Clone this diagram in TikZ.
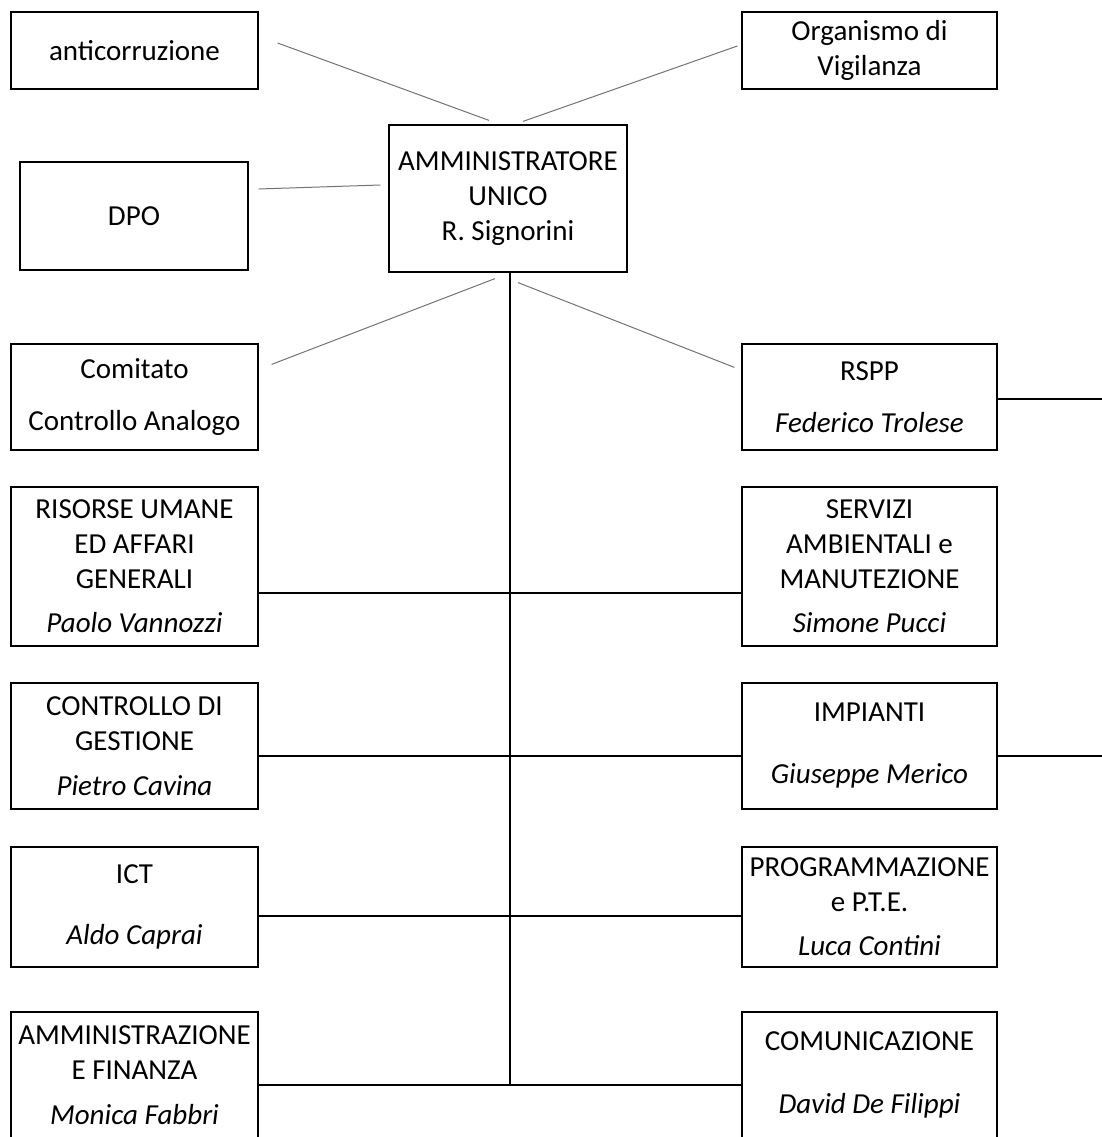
\documentclass[tikz,border=0pt]{standalone}
\usepackage{fontspec}
\setmainfont{Carlito}
\usetikzlibrary{calc,positioning}
\newcommand{\leftw}{247pt}
\newcommand{\rightw}{255pt}
\tikzset{
    node style box/.style={draw,line width=1.2pt,inner sep=0pt,align=center,font=\fontsize{29}{35}\selectfont},
    node style left/.style={node style box,minimum width=\leftw},
    node style right/.style={node style box,minimum width=\rightw},
    line style org/.style={line width=1.2pt},
    line style staff/.style={line width=1pt,black!55},
}

\begin{document}
\begin{tikzpicture}[x=1pt,y=-1pt]
  \useasboundingbox (0,0) rectangle (1102,1137);
  \clip (0,0) rectangle (1102,1137);

  % top level
  \node (au) [node style box,minimum width=238pt,minimum height=147pt] at (508,198.5)
    {AMMINISTRATORE\\UNICO\\R. Signorini};
  \node (anti) [node style left,minimum height=77pt] at (134.5,50.5) {anticorruzione};
  \node (odv) [node style right,minimum height=77pt] at (869.5,50.5) {Organismo di\\Vigilanza};
  \node (dpo) [node style box,minimum width=228pt,minimum height=108pt] at (134,216) {DPO};

  % staff boxes
  \node (cca) [node style left,minimum height=106pt] at (134.5,397) {Comitato\\[17pt]Controllo Analogo};
  \node (rspp) [node style right,minimum height=106pt] at (869.5,397) {RSPP\\[17pt]\textit{Federico Trolese}};

  % left column
  \node (rua) [node style left,minimum height=159pt] at (134.5,566.5)
    {RISORSE UMANE\\ED AFFARI\\GENERALI\\[9pt]\textit{Paolo Vannozzi}};
  \node (cdg) [node style left,minimum height=126pt] at (134.5,746)
    {CONTROLLO DI\\GESTIONE\\[10pt]\textit{Pietro Cavina}};
  \node (ict) [node style left,minimum height=120pt] at (134.5,907)
    {ICT\\[26pt]\textit{Aldo Caprai}};
  \node (afi) [node style left,minimum height=126pt] at (134.5,1075)
    {AMMINISTRAZIONE\\E FINANZA\\[10pt]\textit{Monica Fabbri}};

  % right column
  \node (sam) [node style right,minimum height=159pt] at (869.5,566.5)
    {SERVIZI\\AMBIENTALI e\\MANUTEZIONE\\[9pt]\textit{Simone Pucci}};
  \node (imp) [node style right,minimum height=126pt] at (869.5,746)
    {IMPIANTI\\[27pt]\textit{Giuseppe Merico}};
  \node (pte) [node style right,minimum height=120pt] at (869.5,907)
    {PROGRAMMAZIONE\\e P.T.E.\\[9pt]\textit{Luca Contini}};
  \node (com) [node style right,minimum height=126pt] at (869.5,1075)
    {COMUNICAZIONE\\[28pt]\textit{David De Filippi}};

  % junctions on the trunk
  \coordinate (j1) at (510,593);
  \coordinate (j2) at (510,756);
  \coordinate (j3) at (510,916);
  \coordinate (j4) at (510,1085);
  \coordinate (edge1) at (1102,399);
  \coordinate (edge2) at (1102,756);

  \draw [line style org] (j4 |- au.south) -- (j4);
  \draw [line style org] (rua.east |- j1) -- (sam.west |- j1);
  \draw [line style org] (cdg.east |- j2) -- (imp.west |- j2);
  \draw [line style org] (ict.east |- j3) -- (pte.west |- j3);
  \draw [line style org] (afi.east |- j4) -- (com.west |- j4);
  \draw [line style org] (rspp.east |- edge1) -- (edge1);
  \draw [line style org] (imp.east |- edge2) -- (edge2);

  % staff links
  \draw [line style staff] ($(anti.east)+(19,-7.5)$) -- ($(au.north)+(-19,-4)$);
  \draw [line style staff] ($(odv.west)+(-4,-4.5)$) -- ($(au.north)+(15,-3)$);
  \draw [line style staff] ($(dpo.east)+(10,-27)$) -- ($(au.west)+(-8,-13.5)$);
  \draw [line style staff] ($(cca.north east)+(13,21)$) -- ($(au.south)+(-13,6)$);
  \draw [line style staff] ($(au.south)+(10,10)$) -- ($(rspp.north west)+(-7,24)$);
\end{tikzpicture}
\end{document}
